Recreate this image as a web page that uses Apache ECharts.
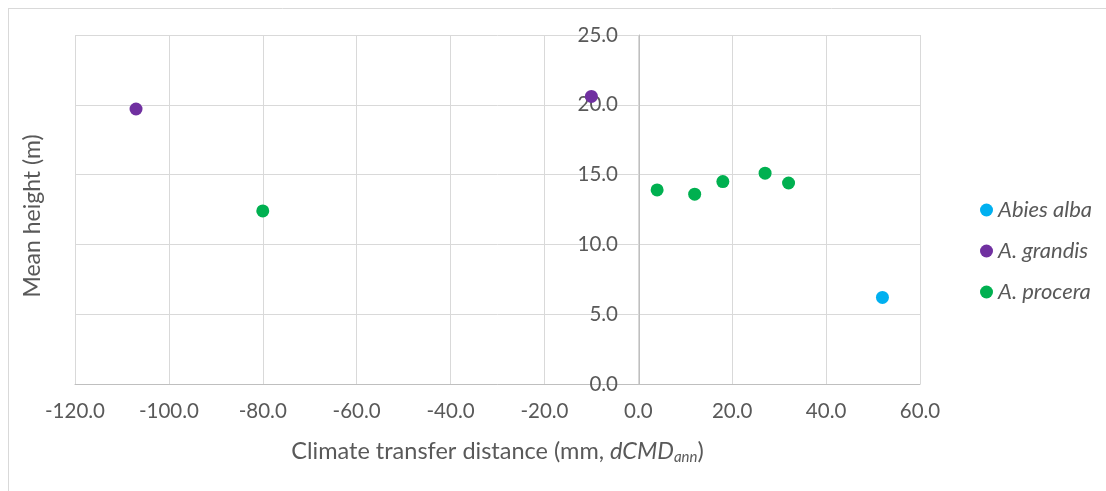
<!DOCTYPE html>
<html><head><meta charset="utf-8">
<script src="https://cdn.jsdelivr.net/npm/echarts@6/dist/echarts.min.js"></script>
<style>html,body{margin:0;padding:0;background:#fff}#c{width:1106px;height:491px}</style>
</head><body><div id="c"></div>
<script>
const seriesNames = ['Abies alba', 'A. grandis', 'A. procera'];
const seriesColors = ['#00B0F0', '#7030A0', '#00B050'];
const abiesAlba = [[52, 6.2]];
const aGrandis = [[-107, 19.7], [-10, 20.6]];
const aProcera = [[-80, 12.4], [4, 13.9], [12, 13.6], [18, 14.5], [27, 15.1], [32, 14.4]];
const seriesData = [abiesAlba, aGrandis, aProcera];
const xTitle = 'Climate transfer distance (mm, {i|dCMD}{sub|ann})';
const yTitle = 'Mean height (m)';

const FONT = 'Lato';
const TXT = '#595959';
const chart = echarts.init(document.getElementById('c'));
chart.setOption({
  animation: false,
  backgroundColor: '#fff',
  textStyle: { fontFamily: FONT },
  grid: { left: 75, right: 186, top: 35, bottom: 107, containLabel: false },
  xAxis: {
    type: 'value', min: -120, max: 60, interval: 20,
    axisLine: { show: true, onZero: false, lineStyle: { color: '#BFBFBF', width: 1 } },
    axisTick: { show: false },
    splitLine: { show: true, lineStyle: { color: '#D9D9D9', width: 1 } },
    axisLabel: { color: TXT, fontSize: 20.5, fontFamily: FONT, margin: 17, formatter: v => v.toFixed(1) },
    name: xTitle, nameLocation: 'middle', nameGap: 53,
    nameTextStyle: {
      color: TXT, fontSize: 23.5, fontFamily: FONT,
      rich: {
        i: { fontStyle: 'italic', fontSize: 23.5, color: TXT, fontFamily: FONT },
        sub: { fontStyle: 'italic', fontSize: 15, color: TXT, fontFamily: FONT, padding: [13, 0, 0, 0] }
      }
    }
  },
  yAxis: {
    type: 'value', min: 0, max: 25, interval: 5,
    offset: -564,
    axisLine: { show: true, onZero: false, lineStyle: { color: '#BFBFBF', width: 1 } },
    axisTick: { show: false },
    splitLine: { show: true, lineStyle: { color: '#D9D9D9', width: 1 } },
    axisLabel: { color: TXT, fontSize: 20.5, fontFamily: FONT, margin: 21, formatter: v => v.toFixed(1) }
  },
  legend: {
    orient: 'vertical', left: 975, top: 194, itemGap: 19, itemWidth: 13, itemHeight: 13,
    icon: 'circle', data: seriesNames,
    textStyle: { color: TXT, fontSize: 22, fontStyle: 'italic', fontFamily: FONT }
  },
  graphic: [
    { type: 'line', shape: { x1: 8, y1: 8.5, x2: 1106, y2: 8.5 }, style: { stroke: '#D9D9D9', lineWidth: 1 } },
    { type: 'line', shape: { x1: 8.5, y1: 8, x2: 8.5, y2: 491 }, style: { stroke: '#D9D9D9', lineWidth: 1 } },
    { type: 'text', x: 33, y: 216, rotation: Math.PI / 2,
      style: { text: yTitle, fill: TXT, font: '23px ' + FONT, textAlign: 'center', textVerticalAlign: 'middle' } }
  ],
  series: seriesNames.map((n, i) => ({
    name: n, type: 'scatter', data: seriesData[i], symbol: 'circle', symbolSize: 13,
    itemStyle: { color: seriesColors[i], opacity: 1 }
  }))
});
</script></body></html>
